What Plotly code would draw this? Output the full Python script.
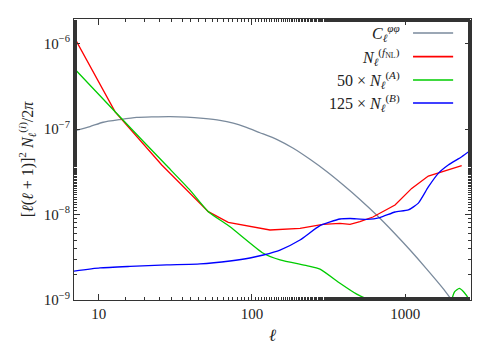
import plotly.graph_objects as go

# ---- data ----
ell_phi = [6.9, 8.78, 10.7, 13.8, 17.7, 22.6, 29.2, 37.5, 48.1, 61.8, 75.5, 90.0, 112.7, 144.9,
           185.9, 238.9, 307, 394, 506, 650, 835, 1074, 1380, 1772, 2008, 2683]
cl_phi = [9.5e-8, 1.07e-7, 1.20e-7, 1.29e-7, 1.37e-7, 1.39e-7, 1.40e-7, 1.38e-7, 1.33e-7, 1.26e-7,
          1.17e-7, 1.06e-7, 9.05e-8, 7.58e-8, 5.95e-8, 4.42e-8, 3.18e-8, 2.21e-8, 1.50e-8, 9.86e-9,
          6.24e-9, 3.84e-9, 2.30e-9, 1.35e-9, 1.0e-9, 5.0e-10]

ell_fnl = [6.9, 12.8, 25.8, 37.5, 51.9, 70.0, 131, 205.6, 290, 375, 436, 506, 615, 857, 1101,
           1413, 1726, 2333]
n_fnl = [1.20e-6, 1.59e-7, 3.79e-8, 1.93e-8, 1.08e-8, 8.1e-9, 6.59e-9, 6.9e-9, 7.68e-9, 7.89e-9,
         7.68e-9, 8.24e-9, 9.35e-9, 1.29e-8, 2.02e-8, 2.82e-8, 3.17e-8, 3.72e-8]

ell_a = [6.9, 12.8, 27.5, 39.4, 51.9, 71.9, 118.6, 152.4, 227.5, 277.7, 375, 482, 574, 700, 1000,
         1500, 1850, 2008, 2100, 2249, 2400, 2616, 2683]
n_a = [5.13e-7, 1.59e-7, 3.79e-8, 1.93e-8, 1.08e-8, 7.2e-9, 3.52e-9, 2.94e-9, 2.52e-9, 2.30e-9,
       1.57e-9, 1.17e-9, 1.0e-9, 7.0e-10, 4.0e-10, 3.5e-10, 5.0e-10, 1.0e-9, 1.25e-9, 1.37e-9,
       1.25e-9, 1.0e-9, 9.0e-10]

ell_b = [6.9, 10.2, 16.0, 27.8, 45.8, 71.9, 97, 118.6, 152.4, 205.6, 277.7, 375, 436, 560, 684,
         857, 1047, 1217, 1413, 1642, 1907, 2333, 2683]
n_b = [2.18e-9, 2.37e-9, 2.47e-9, 2.57e-9, 2.64e-9, 2.86e-9, 3.10e-9, 3.36e-9, 3.84e-9, 5.03e-9,
       7.4e-9, 8.86e-9, 8.98e-9, 8.79e-9, 9.22e-9, 1.07e-8, 1.13e-8, 1.36e-8, 2.10e-8, 3.03e-8,
       3.79e-8, 4.74e-8, 5.68e-8]

names = ["<i>C</i><sub><i>ℓ</i></sub><sup><i>φφ</i></sup>",
         "<i>N</i><sub><i>ℓ</i></sub><sup>(<i>f</i><sub>NL</sub>)</sup>",
         "50 × <i>N</i><sub><i>ℓ</i></sub><sup>(<i>A</i>)</sup>",
         "125 × <i>N</i><sub><i>ℓ</i></sub><sup>(<i>B</i>)</sup>"]
colors = ["#7a8a9c", "#ff0000", "#00cc00", "#0000ff"]

x_ticks = [10, 100, 1000]
x_tick_text = ["10", "100", "1000"]
y_ticks = [1e-9, 1e-8, 1e-7, 1e-6]
y_tick_text = ["10<sup>−9</sup>", "10<sup>−8</sup>", "10<sup>−7</sup>", "10<sup>−6</sup>"]

FONT = "Liberation Serif"

fig = go.Figure()
series = [(ell_phi, cl_phi, "spline"), (ell_fnl, n_fnl, "linear"),
          (ell_a, n_a, "spline"), (ell_b, n_b, "spline")]
for (xs, ys, shape), c, nm in zip(series, colors, names):
    fig.add_trace(go.Scatter(x=xs, y=ys, mode="lines", name=nm, showlegend=False,
                             line=dict(color=c, width=1.3, shape=shape, smoothing=0.5)))

# legend drawn as right-aligned text followed by a sample line
row_y = [0.950, 0.866, 0.783, 0.701]
for nm, c, yy in zip(names, colors, row_y):
    fig.add_annotation(x=0.826, y=yy, xref="paper", yref="paper", text=nm, showarrow=False,
                       xanchor="right", yanchor="middle", font=dict(family=FONT, size=16, color="#222"))
    fig.add_shape(type="line", xref="paper", yref="paper", x0=0.854, x1=0.955, y0=yy, y1=yy,
                  line=dict(color=c, width=1.6))

axis_common = dict(type="log", showgrid=False, zeroline=False, showline=True, linecolor="#333",
                   linewidth=1, mirror="allticks", ticks="inside", ticklen=6, tickcolor="#333",
                   minor=dict(ticks="inside", ticklen=3, tickcolor="#333", showgrid=False),
                   tickfont=dict(family=FONT, size=15, color="#222"), automargin=False)

fig.update_xaxes(**axis_common, range=[0.839, 3.4286], tickvals=x_ticks, ticktext=x_tick_text,
                 title=dict(text="<i>ℓ</i>", font=dict(family=FONT, size=17, color="#222"), standoff=8))
fig.update_yaxes(**axis_common, range=[-9, -5.713], tickvals=y_ticks, ticktext=y_tick_text,
                 title=dict(text="[<i>ℓ</i>(<i>ℓ</i> + 1)]<sup>2</sup> <i>N</i><sub><i>ℓ</i></sub><sup>(<i>i</i>)</sup>/2<i>π</i>",
                            font=dict(family=FONT, size=16, color="#222"), standoff=6))

fig.update_layout(width=492, height=342, margin=dict(l=66, r=29, t=11, b=50),
                  paper_bgcolor="white", plot_bgcolor="white", showlegend=False)

fig.write_html("out.html")
